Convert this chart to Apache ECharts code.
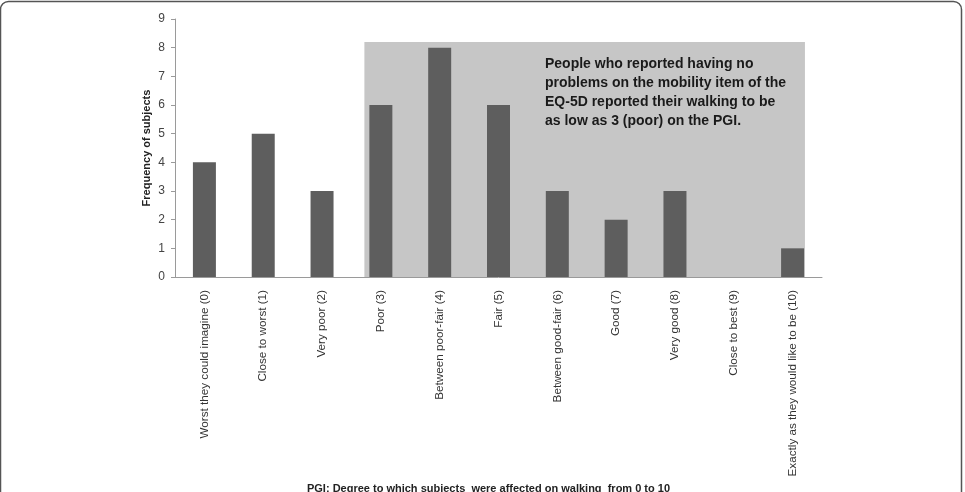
<!DOCTYPE html>
<html>
<head>
<meta charset="utf-8">
<script src="https://cdn.jsdelivr.net/npm/echarts@6/dist/echarts.min.js"></script>
<style>html,body{margin:0;padding:0;background:#fff}#c{width:965px;height:492px}</style>
</head>
<body>
<div id="c"></div>
<script>
const categories = ["Worst they could imagine (0)", "Close to worst (1)", "Very poor (2)", "Poor (3)", "Between poor-fair (4)", "Fair (5)", "Between good-fair (6)", "Good (7)", "Very good (8)", "Close to best (9)", "Exactly as they would like to be (10)"];
const frequency = [4, 5, 3, 6, 8, 6, 3, 2, 3, 0, 1];
const yTicks = [0, 9, 1];
const shadeX = [2.72, 10.21];
const shadeTop = 8.2;
const note = "People who reported having no\nproblems on the mobility item of the\nEQ-5D reported their walking to be\nas low as 3 (poor) on the PGI.";
const yTitle = "Frequency of subjects";
const xTitle = "PGI: Degree to which subjects  were affected on walking  from 0 to 10";

const chart = echarts.init(document.getElementById('c'));
chart.setOption({
  animation: false,
  backgroundColor: '#fff',
  grid: {left: 175, right: 143, top: 19, bottom: 215, containLabel: false, outerBoundsMode: 'none'},
  xAxis: [{
    type: 'category', data: categories,
    axisLine: {lineStyle: {color: '#9a9a9a', width: 1}},
    axisTick: {show: false},
    axisLabel: {rotate: 90, margin: 13, color: '#333', fontSize: 11.7, fontFamily: 'Liberation Sans'},
    name: xTitle, nameLocation: 'middle', nameGap: 206, nameMoveOverlap: false,
    nameTextStyle: {fontWeight: 'bold', fontSize: 11, color: '#222', fontFamily: 'Liberation Sans', padding: [0, 20, 0, 0]}
  }, {
    type: 'value', min: -0.5, max: 10.5, show: false
  }],
  yAxis: {
    type: 'value', min: yTicks[0], max: yTicks[1], interval: yTicks[2],
    splitLine: {show: false},
    axisLine: {show: true, onZero: false, lineStyle: {color: '#9a9a9a'}},
    axisTick: {show: true, length: 4, lineStyle: {color: '#9a9a9a'}},
    axisLabel: {color: '#444', fontSize: 12, margin: 10, fontFamily: 'Liberation Sans'},
    name: yTitle, nameLocation: 'middle', nameGap: 23, nameMoveOverlap: false,
    nameTextStyle: {fontWeight: 'bold', fontSize: 11, color: '#222', fontFamily: 'Liberation Sans'}
  },
  series: [{
    type: 'line', xAxisIndex: 1, data: [[shadeX[0], 0]], symbol: 'none', z: 1,
    lineStyle: {opacity: 0}, silent: true,
    markArea: {silent: true, itemStyle: {color: '#c6c6c6'},
      data: [[{coord: [shadeX[0], 0]}, {coord: [shadeX[1], shadeTop]}]]}
  }, {
    type: 'bar', data: frequency, barWidth: 23, z: 3,
    itemStyle: {color: '#5e5e5e'}
  }],
  graphic: [{
    type: 'rect', z: 100, silent: true,
    shape: {x: 0.5, y: 1.5, width: 961, height: 540, r: 8},
    style: {fill: 'none', stroke: '#555', lineWidth: 1.5}
  }, {
    type: 'text', left: 545, top: 55, z: 50,
    style: {text: note, fontWeight: 'bold', fontSize: 14, lineHeight: 19, fill: '#1a1a1a', fontFamily: 'Liberation Sans'}
  }]
});
</script>
</body>
</html>
